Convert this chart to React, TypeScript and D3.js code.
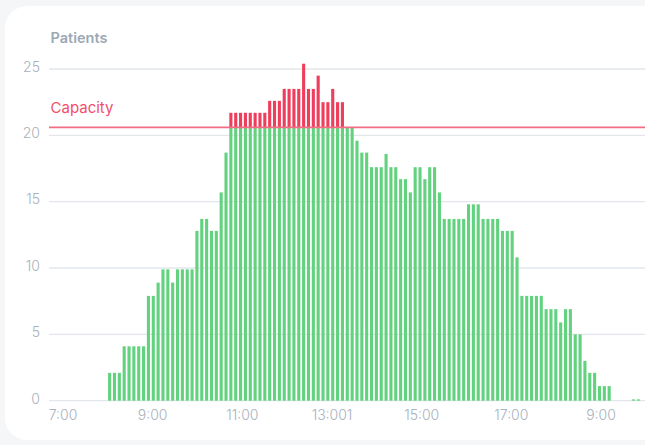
import * as d3 from 'd3'

// patients per slot (one bar each)
const patients = [
  2.1, 2.1, 2.1, 4.1, 4.1, 4.1, 4.1, 4.1, 7.9, 7.9,
  8.9, 9.9, 9.9, 8.9, 9.9, 9.9, 9.9, 9.9, 12.8, 13.7,
  13.7, 12.8, 12.8, 15.7, 18.7, 21.7, 21.7, 21.7, 21.7, 21.7,
  21.7, 21.7, 21.7, 22.6, 22.6, 22.6, 23.5, 23.5, 23.5, 23.5,
  25.4, 23.5, 23.5, 24.5, 22.5, 22.5, 23.5, 22.5, 22.5, 20.6,
  20.6, 19.6, 18.7, 18.7, 17.6, 17.6, 17.6, 18.6, 17.6, 17.6,
  16.7, 16.7, 15.7, 17.6, 17.6, 16.7, 17.6, 17.6, 15.7, 13.7,
  13.7, 13.7, 13.7, 13.7, 14.8, 14.8, 14.8, 13.7, 13.7, 13.7,
  13.7, 12.8, 12.8, 12.8, 10.8, 7.9, 7.9, 7.9, 7.9, 7.9,
  6.9, 6.9, 6.9, 5.9, 6.9, 6.9, 5.0, 5.0, 3.0, 2.1,
  2.1, 1.1, 1.1, 1.1, 0, 0, 0, 0, 0.1, 0.1,
]
const capacity = 20.6
const yTicks = [0, 5, 10, 15, 20, 25]
const xLabels = ['7:00', '9:00', '11:00', '13:001', '15:00', '17:00', '9:00']

const W = 645, H = 445
const GREEN = '#62d27f', RED = '#ef3e5c', MUTED = '#a7b2bd', GRID = '#e3e7eb'
const FONT = 'Inter, "Noto Sans", sans-serif'

export default function App() {
  const idx = patients.map((_, i) => i)
  const x = d3.scaleBand<number>().domain(idx).range([107.2, 640.7]).paddingInner(0.36).paddingOuter(0.18)
  const y = d3.scaleLinear().domain([0, 25]).range([400.7, 69])
  const xl = d3.scalePoint<string>().domain(xLabels.map((_, i) => String(i))).range([63, 601])
  const left = 49
  const cy = y(capacity)

  return (
    <div style={{ position: 'fixed', left: 0, top: 0, width: W, height: H, background: '#f5f6f8' }}>
      <svg width={W} height={H} style={{ display: 'block', fontFamily: FONT }}>
        <rect x={5} y={6} width={W + 40} height={434} rx={22} fill="#ffffff" />
        <text x={50.5} y={43} fontSize={14.5} fontWeight={600} fill="#9ca8b4">Patients</text>
        {yTicks.map(t => (
          <g key={t}>
            <line x1={left} x2={W} y1={y(t)} y2={y(t)} stroke={GRID} strokeWidth={1.3} />
            <text x={40} y={y(t) + 2.8} textAnchor="end" fontSize={14} fontWeight={300} fill={MUTED}>{t}</text>
          </g>
        ))}
        {patients.map((v, i) => {
          const g = Math.min(v, capacity)
          return (
            <g key={i}>
              {v > 0 && <rect x={x(i)} y={y(g)} width={x.bandwidth()} height={y(0) - y(g)} fill={GREEN} />}
              {v > capacity && <rect x={x(i)} y={y(v)} width={x.bandwidth()} height={y(capacity) - y(v)} fill={RED} />}
            </g>
          )
        })}
        <line x1={left} x2={W} y1={cy} y2={cy} stroke="#f06d83" strokeWidth={1.6} />
        <text x={50.5} y={112.5} fontSize={15} fill="#f0506c">Capacity</text>
        {xLabels.map((l, i) => (
          <text key={i} x={xl(String(i))} y={420} textAnchor="middle" fontSize={14} fontWeight={300} fill={MUTED}>{l}</text>
        ))}
      </svg>
    </div>
  )
}
